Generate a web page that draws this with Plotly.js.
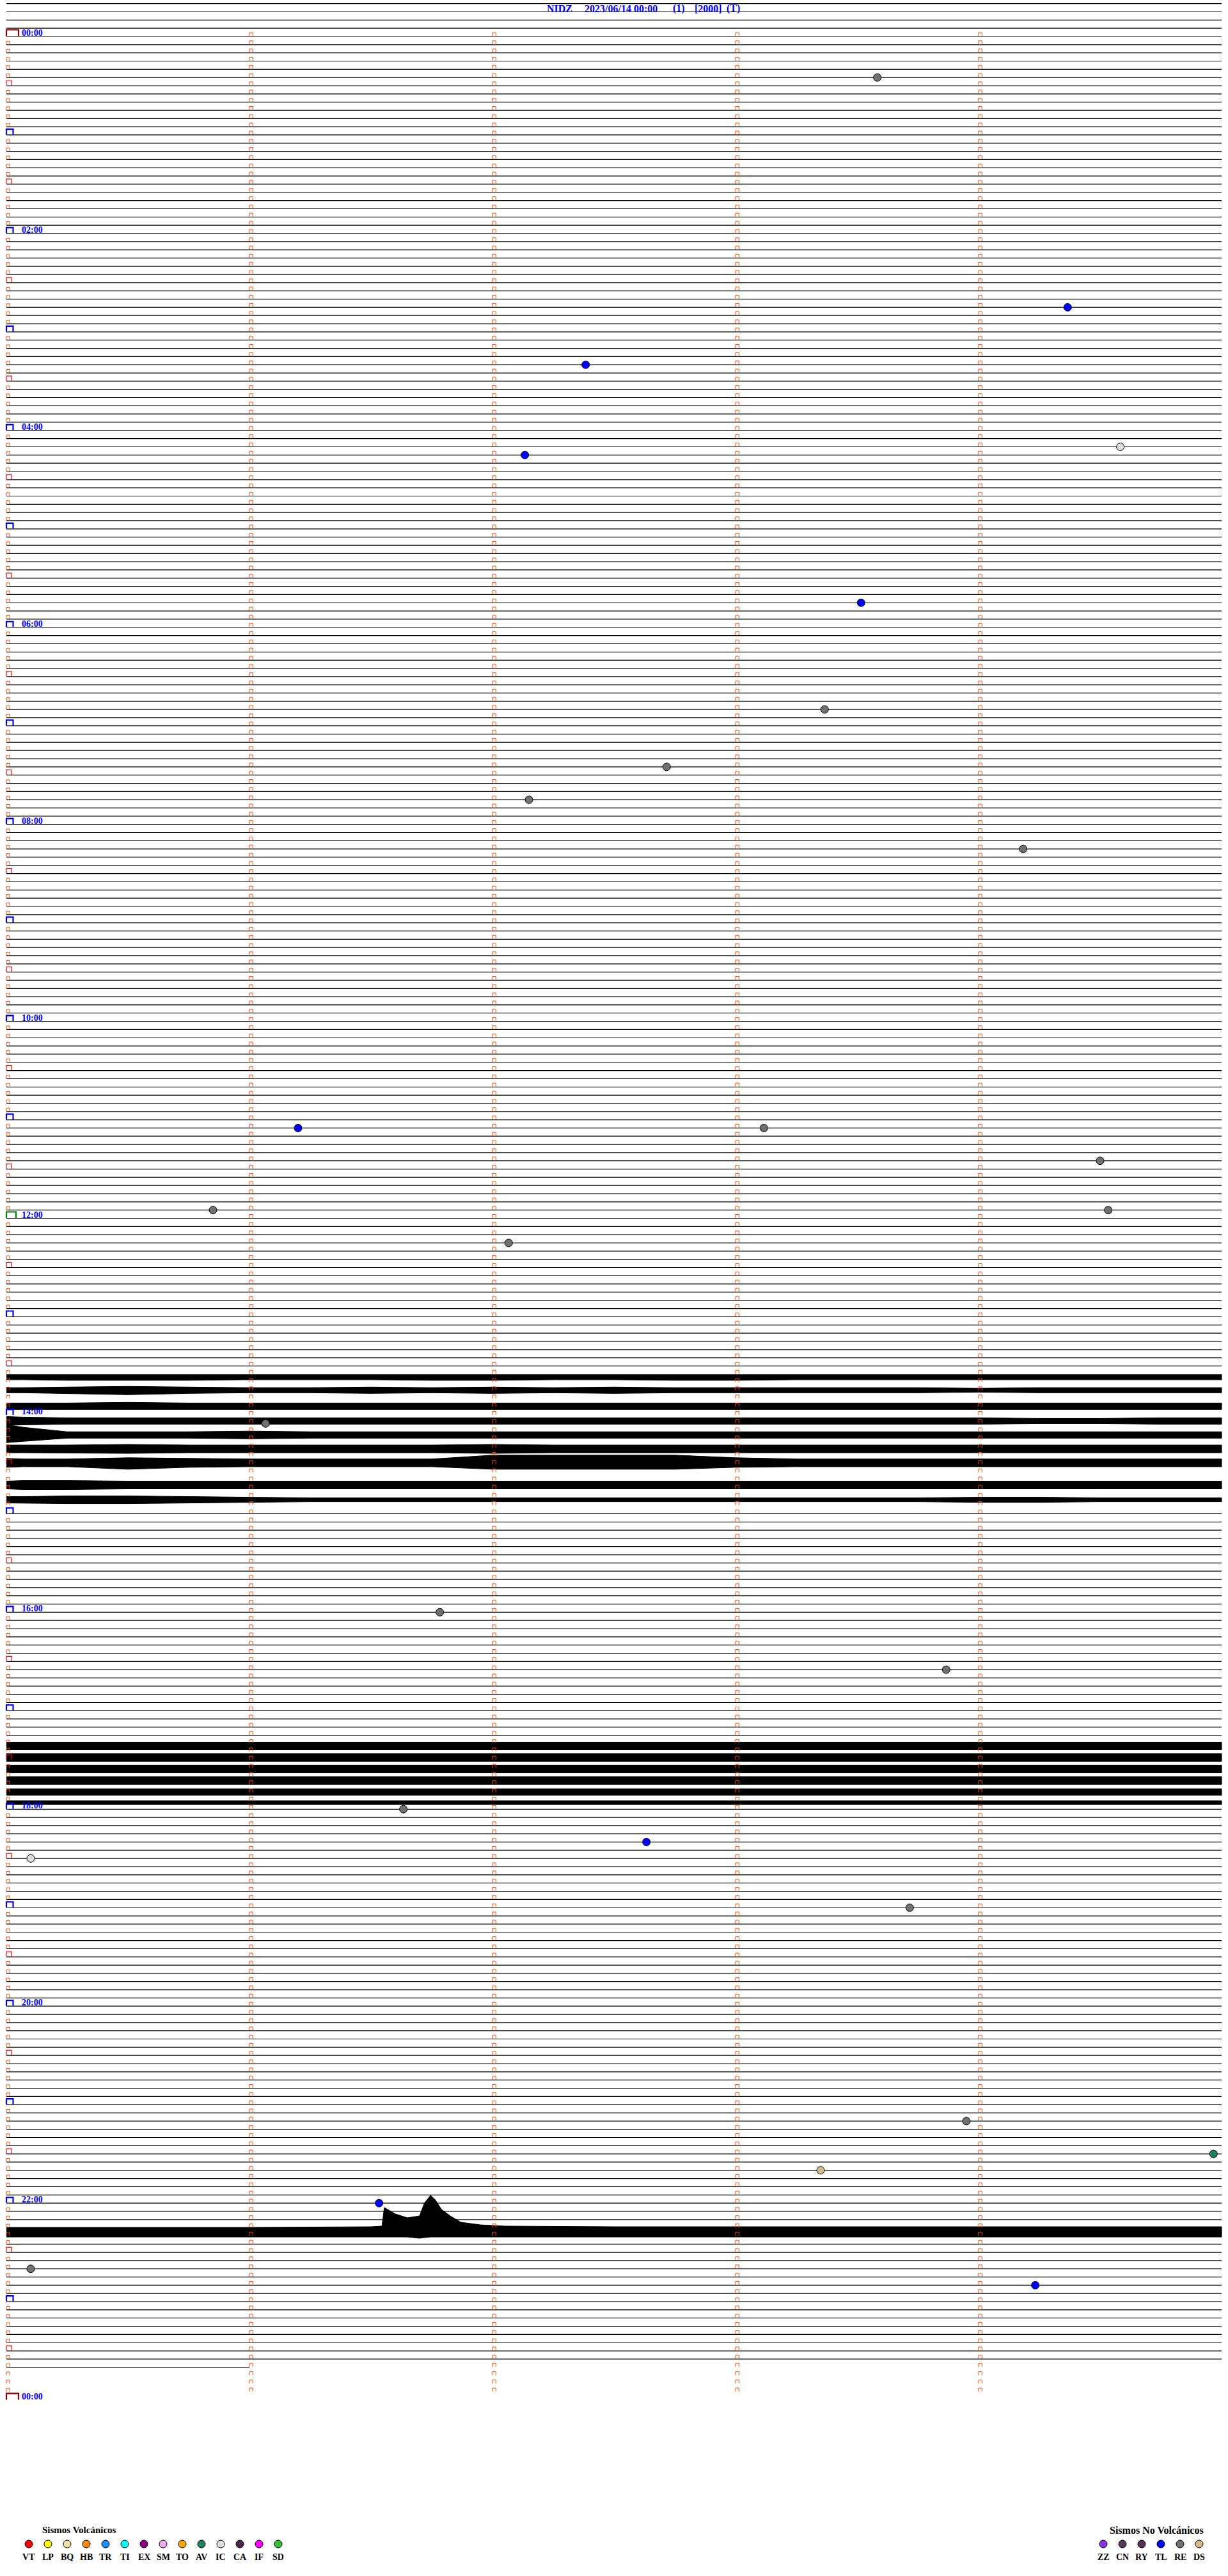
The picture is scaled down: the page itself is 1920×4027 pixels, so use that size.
<!DOCTYPE html>
<html><head><meta charset="utf-8">
<script src="https://cdn.plot.ly/plotly-3.0.1.min.js"></script>
<style>html,body{margin:0;padding:0;background:#fff}#chart{width:1920px;height:4027px}</style>
</head><body><div id="chart"></div>
<script>
// ---------------- DATA ----------------
const station = "NIDZ";
const dateText = "2023/06/14 00:00";
const titleExtras = ["(1)", "[2000]", "(T)"];
const minutesPerRow = 5;
const rowsPerHour = 12;
const totalRows = 288;           // 24 h
const dataEndRow = 284;          // last row with signal
const dataEndMin = 1.0;          // signal stops at this minute of the last row
const headerRows = [-4, -3, -2, -1];

// event picks: time of day and type
const evTime = ["00:28:35","02:49:22","03:22:23","04:14:35","04:17:08","05:48:31","06:53:22","07:27:43","07:47:09","08:19:11",
                "11:06:12","11:08:07","11:29:30","11:55:51","11:59:32","12:17:04","14:06:04","16:01:47","16:38:52","18:01:38",
                "18:22:38","18:30:06","19:03:43","21:13:57","21:34:58","21:43:21","22:01:32","22:40:06","22:54:14"];
const evType = ["RE","TL","TL","IC","TL","TL","RE","RE","RE","RE",
                "TL","RE","RE","RE","RE","RE","RE","RE","RE","RE",
                "TL","IC","RE","RE","AV","DS","TL","RE","TL"];

// legend
const volcTypes  = ["VT","LP","BQ","HB","TR","TI","EX","SM","TO","AV","IC","CA","IF","SD"];
const volcColors = ["#ff0000","#ffff00","#f2e4a6","#ff8800","#1e8cff","#00ffff","#880088","#eeaaee","#ffa500","#1f8060","#dddddd","#4a2845","#ff00ff","#33c033"];
const nonVolcTypes  = ["ZZ","CN","RY","TL","RE","DS"];
const nonVolcColors = ["#8833dd","#523a58","#553355","#0000ff","#707070","#d6b88a"];

// noisy stretches: centre row of each visible band, amplitude envelopes (above / below centre)
const bandX = [0,0.07,0.25,0.5,0.75,1,1.25,1.5,1.75,2,2.25,2.5,2.75,3,3.25,3.5,3.75,4,4.25,4.5,4.75,5];
const burst1Rows = [163.2,164.95,166.9,168.7,170.4,172.1,173.8,176.5,178.3];
const burst1Up = [
 [2,2,2,2,2,2,2,2,2,2,2,2,2,2,2,2,2,2,2,2,2,2],
 [4,4,5,6,5,4,4,5,4,5,4,5,4,4,4,4,4,3,4,4,4,4],
 [5,5,5,6,5,5,5,5,5,5,5,5,5,5,5,5,5,5,5,5,5,5],
 [7,6,5,5,5,5,5,5,5,5,5,5,5,5,5,5,5,5,4,4,5,5],
 [16,12,5,5,5,6,5,5,5,5,5,5,5,5,5,5,5,5,5,5,5,5],
 [6,6,6,7,6,6,6,6,6,7,6,6,6,6,6,6,6,6,6,6,6,6],
 [7,6,6,8,7,6,6,6,6,12,12,12,12,8,6,6,6,6,6,6,6,6],
 [6,7,7,6,6,6,6,6,6,6,6,6,6,6,6,6,6,6,6,6,6,6],
 [5,5,6,6,5,4,3,3,3,3,3,3,3,3,3,3,3,4,4,3,3,3]];
const burst1Dn = [
 [6,6,7,7,7,6,6,6,7,7,6,6,7,7,6,6,6,6,6,6,6,6],
 [4,4,5,7,5,4,4,5,4,5,4,5,4,4,4,4,4,3,4,4,4,4],
 [5,5,5,5,5,5,5,5,5,5,5,5,5,5,5,5,5,5,5,5,5,5],
 [7,6,5,5,5,5,5,5,5,5,5,5,5,5,5,5,5,5,4,4,5,5],
 [12,10,5,5,5,6,5,5,5,5,5,5,5,5,5,5,5,5,5,5,5,5],
 [6,6,6,7,6,6,6,6,6,7,6,6,6,6,6,6,6,6,6,6,6,6],
 [7,6,6,10,7,6,6,6,6,10,10,10,10,7,6,6,6,6,6,6,6,6],
 [6,7,7,6,6,6,6,6,6,6,6,6,6,6,6,6,6,6,6,6,6,6],
 [5,5,6,6,5,4,3,3,3,3,3,3,3,3,3,3,3,4,4,3,3,3]];
const burst1Span = [163, 179];

const burst2Rows = [208.3,209.7,211.1,212.5,213.9,215.2];
const burst2Up = [
 [6,6,6,6,6,6,6,6,6,6,6,6,6,6,6,6,6,6,6,6,6,6],
 [6,6,6,6,6,6,6,6,6,6,6,6,6,6,6,6,6,6,6,6,6,6],
 [6,6,6,6,6,6,6,6,6,6,6,6,6,6,6,6,6,6,6,6,6,6],
 [6,6,6,6,6,6,6,6,6,6,6,6,6,6,6,6,6,6,6,6,6,6],
 [5,5,5,5,5,5,5,5,5,5,5,5,5,5,5,5,5,5,5,5,5,5],
 [3,3,3,3,3,3,3,3,3,3,3,3,3,3,3,3,3,3,3,3,3,3]];
const burst2Dn = burst2Up;
const burst2Span = [208, 215];

const burst3X  = [0,0.5,1,1.5,1.545,1.555,1.6,1.65,1.7,1.72,1.745,1.765,1.79,1.83,1.87,1.95,2.05,2.5,3,3.5,4,4.5,5];
const burst3Row = 267.5;
const burst3Up = [7,7,7,8,9,38,28,22,25,45,57,50,35,24,15,11,9,8,8,8,8,8,8];
const burst3Dn = [8,8,8,8,8,8,8,8,10,9,8,8,8,8,8,8,8,8,8,8,8,8,8];
const burst3Span = [267, 268];

// ---------------- GEOMETRY (pixels of the page) ----------------
const W = 1920, H = 4027;
const ROW_PX = 12.83, Y0 = 57, MIN_PX = 380, X0 = 10;
const pr = p => p / ROW_PX;   // pixel -> rows
const pm = p => p / MIN_PX;   // pixel -> minutes

const traces = [];

// flat quiet traces
const inSpan = (r, s) => r >= s[0] && r <= s[1];
const lx = [], ly = [];
for (let r = headerRows[0]; r <= dataEndRow; r++) {
  if (inSpan(r, burst1Span) || inSpan(r, burst2Span) || inSpan(r, burst3Span)) continue;
  const end = (r === dataEndRow) ? dataEndMin : minutesPerRow;
  lx.push(0, end, null); ly.push(r, r, null);
}
traces.push({type:'scatter', mode:'lines', x:lx, y:ly, line:{color:'#000', width:1.2}, hoverinfo:'skip'});

// noisy bands
function band(xs, row, up, dn) {
  const x = xs.concat(xs.slice().reverse());
  const y = xs.map((_, i) => row - pr(up[i])).concat(xs.map((_, i) => row + pr(dn[i])).reverse());
  traces.push({type:'scatter', mode:'lines', x:x, y:y, fill:'toself', fillcolor:'#000',
               line:{color:'#000', width:1}, hoverinfo:'skip'});
}
burst1Rows.forEach((r, i) => band(bandX, r, burst1Up[i], burst1Dn[i]));
burst2Rows.forEach((r, i) => band(bandX, r, burst2Up[i], burst2Dn[i]));
band(burst3X, burst3Row, burst3Up, burst3Dn);

// tick marks ("⊓") on every row
function cap(arrX, arrY, xMin, row, wPx, hPx) {
  arrX.push(xMin, xMin, xMin + pm(wPx), xMin + pm(wPx), null);
  arrY.push(row - pr(0.5), row - pr(hPx), row - pr(hPx), row - pr(0.5), null);
}
const ox = [], oy = [], rx = [], ry = [], bx = [], by = [];
for (let r = 0; r < totalRows; r++) {
  for (let c = 1; c < minutesPerRow; c++) cap(ox, oy, c, r, 5.5, 6);
  if (r % rowsPerHour === 0) {
    if (r === 0 || r === 144) continue;
    cap(bx, by, 0, r, 10.5, 9);
  } else if (r % (rowsPerHour / 2) === 0) {
    cap(rx, ry, 0, r, 8, 8);
  } else {
    cap(ox, oy, 0, r, 5.5, 5.5);
  }
}
traces.push({type:'scatter', mode:'lines', x:ox, y:oy, line:{color:'#ff4500', width:1}, hoverinfo:'skip'});
traces.push({type:'scatter', mode:'lines', x:rx, y:ry, line:{color:'#ff0000', width:1.2}, hoverinfo:'skip'});
traces.push({type:'scatter', mode:'lines', x:bx, y:by, line:{color:'#0000ff', width:2.2}, hoverinfo:'skip'});
const dx = [], dy = [];
cap(dx, dy, 0, 0, 19, 10.5); cap(dx, dy, 0, totalRows, 19, 10.5);
traces.push({type:'scatter', mode:'lines', x:dx, y:dy, line:{color:'#8b0000', width:2.2}, hoverinfo:'skip'});
const gx = [], gy = [];
cap(gx, gy, 0, 144, 15, 10);
traces.push({type:'scatter', mode:'lines', x:gx, y:gy, line:{color:'#008000', width:2.2}, hoverinfo:'skip'});

// events
const typeColor = {};
volcTypes.forEach((t, i) => typeColor[t] = volcColors[i]);
nonVolcTypes.forEach((t, i) => typeColor[t] = nonVolcColors[i]);
const evX = [], evY = [], evC = [];
evTime.forEach((t, i) => {
  const [h, m, s] = t.split(':').map(Number);
  const mins = h * 60 + m + s / 60;
  const row = Math.floor(mins / minutesPerRow);
  evX.push(mins - row * minutesPerRow); evY.push(row); evC.push(typeColor[evType[i]]);
});
traces.push({type:'scatter', mode:'markers', x:evX, y:evY, text:evType,
  marker:{size:12, color:evC, line:{color:'#000', width:1}}, hoverinfo:'text'});

// legend (page-pixel axes)
const legX1 = volcTypes.map((_, i) => 45 + 30 * i);
const legX2 = nonVolcTypes.map((_, i) => 1725 + 30 * i);
traces.push({type:'scatter', mode:'markers', xaxis:'x2', yaxis:'y2', x:legX1.concat(legX2),
  y:legX1.concat(legX2).map(() => 3977), marker:{size:12, color:volcColors.concat(nonVolcColors), line:{color:'#000', width:1}},
  hoverinfo:'skip'});

const serif = "Liberation Serif, Times New Roman, serif";
const ann = [];
// title pieces
const tparts = [[station, 853], [dateText, 912], [titleExtras[0], 1050], [titleExtras[1], 1084], [titleExtras[2], 1134]];
tparts.forEach(p => ann.push({xref:'x2', yref:'y2', x:p[1], y:13, text:'<b>' + p[0] + '</b>', showarrow:false,
  xanchor:'left', yanchor:'middle', font:{family:serif, size:16, color:'#0000ff'}}));
// hour labels every two hours
for (let r = 0; r <= totalRows; r += 2 * rowsPerHour) {
  const hh = String((r / rowsPerHour) % 24).padStart(2, '0') + ':00';
  ann.push({x:pm(32 - X0), y:r - pr(5.5), text:'<b>' + hh + '</b>', showarrow:false, xanchor:'left', yanchor:'middle',
    font:{family:serif, size:14, color:'#0000ff'}});
}
legX1.forEach((x, i) => ann.push({xref:'x2', yref:'y2', x:x, y:3997, text:'<b>' + volcTypes[i] + '</b>', showarrow:false,
  xanchor:'center', yanchor:'middle', font:{family:serif, size:14, color:'#000'}}));
legX2.forEach((x, i) => ann.push({xref:'x2', yref:'y2', x:x, y:3997, text:'<b>' + nonVolcTypes[i] + '</b>', showarrow:false,
  xanchor:'center', yanchor:'middle', font:{family:serif, size:14, color:'#000'}}));
ann.push({xref:'x2', yref:'y2', x:64, y:3955, text:'<b>Sismos Volcánicos</b>', showarrow:false, xanchor:'left', yanchor:'middle',
  font:{family:serif, size:15, color:'#000'}});
ann.push({xref:'x2', yref:'y2', x:1733, y:3955, text:'<b>Sismos No Volcánicos</b>', showarrow:false, xanchor:'left', yanchor:'middle',
  font:{family:serif, size:16, color:'#000'}});

const layout = {
  width:W, height:H, margin:{l:0, r:0, t:0, b:0, pad:0},
  paper_bgcolor:'#fff', plot_bgcolor:'rgba(0,0,0,0)', showlegend:false,
  xaxis:{range:[-pm(X0), pm(W - X0)], visible:false, fixedrange:true},
  yaxis:{range:[pr(H - Y0), -pr(Y0)], visible:false, fixedrange:true},
  xaxis2:{range:[0, W], visible:false, anchor:'y2', overlaying:'x'},
  yaxis2:{range:[H, 0], visible:false, anchor:'x2', overlaying:'y'},
  annotations:ann
};
Plotly.newPlot('chart', traces, layout, {staticPlot:true, displayModeBar:false});
</script></body></html>
